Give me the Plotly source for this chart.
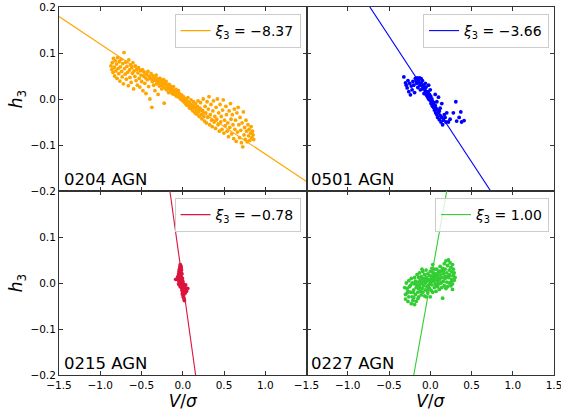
import plotly.graph_objects as go
from plotly.subplots import make_subplots

# ---- data -------------------------------------------------------------
labels = ["0204 AGN", "0501 AGN", "0215 AGN", "0227 AGN"]
xi3 = [-8.37, -3.66, -0.78, 1.00]
colors = ["#FFA500", "#0000FF", "#DC143C", "#32CD32"]

x_ticks_left = [-1.5, -1.0, -0.5, 0.0, 0.5, 1.0]
x_ticks_right = [-1.5, -1.0, -0.5, 0.0, 0.5, 1.0, 1.5]
y_ticks_top = [-0.2, -0.1, 0.0, 0.1, 0.2]
y_ticks_bottom = [-0.2, -0.1, 0.0, 0.1]

# (V/sigma, h3) pairs per galaxy
pts_0204 = [
    (-0.87, 0.072), (-0.86, 0.064), (-0.855, 0.079), (-0.845, 0.058), (-0.84, 0.088),
    (-0.83, 0.069), (-0.826, 0.05), (-0.818, 0.083), (-0.81, 0.061), (-0.803, 0.076),
    (-0.797, 0.045), (-0.79, 0.09), (-0.784, 0.066), (-0.776, 0.055), (-0.77, 0.081),
    (-0.762, 0.039), (-0.757, 0.07), (-0.748, 0.086), (-0.741, 0.06), (-0.734, 0.048),
    (-0.727, 0.077), (-0.72, 0.033), (-0.712, 0.101), (-0.706, 0.066), (-0.698, 0.054),
    (-0.69, 0.08), (-0.684, 0.043), (-0.676, 0.071), (-0.668, 0.058), (-0.66, 0.029),
    (-0.654, 0.085), (-0.646, 0.063), (-0.64, 0.047), (-0.633, 0.074), (-0.625, 0.036),
    (-0.618, 0.068), (-0.61, 0.056), (-0.604, 0.079), (-0.596, 0.022), (-0.589, 0.061),
    (-0.58, 0.049), (-0.574, 0.072), (-0.566, 0.04), (-0.559, 0.064), (-0.55, 0.03),
    (-0.543, 0.057), (-0.537, 0.068), (-0.528, 0.045), (-0.52, 0.026), (-0.513, 0.062),
    (-0.506, 0.052), (-0.498, 0.038), (-0.49, 0.064), (-0.483, 0.018), (-0.476, 0.05),
    (-0.468, 0.059), (-0.46, 0.034), (-0.452, 0.046), (-0.446, 0.012), (-0.438, 0.054),
    (-0.43, 0.042), (-0.421, 0.06), (-0.414, 0.027), (-0.405, 0.049), (-0.398, 0.0),
    (-0.39, 0.044), (-0.383, 0.055), (-0.374, -0.018), (-0.368, 0.038), (-0.36, 0.05),
    (-0.352, 0.03), (-0.345, 0.046), (-0.337, 0.018), (-0.33, 0.04), (-0.322, 0.052),
    (-0.315, 0.033), (-0.307, 0.044), (-0.299, 0.01), (-0.292, 0.037), (-0.284, 0.028),
    (-0.276, 0.045), (-0.27, 0.032), (-0.262, 0.04), (-0.255, 0.022), (-0.247, 0.036),
    (-0.24, 0.029), (-0.232, 0.042), (-0.225, -0.009), (-0.218, 0.024), (-0.21, 0.033),
    (-0.202, 0.038), (-0.195, 0.02), (-0.188, 0.03), (-0.18, 0.025), (-0.172, 0.014),
    (-0.165, 0.032), (-0.157, 0.022), (-0.15, 0.028), (-0.143, 0.016), (-0.135, 0.024),
    (-0.128, 0.012), (-0.12, 0.02), (-0.113, 0.027), (-0.105, 0.01), (-0.098, 0.018),
    (-0.09, 0.013), (-0.082, 0.021), (-0.075, 0.006), (-0.068, 0.015), (-0.06, 0.01),
    (-0.052, 0.018), (-0.045, 0.003), (-0.037, 0.011), (-0.03, 0.006), (-0.022, -0.001),
    (-0.015, 0.009), (-0.008, 0.002), (0.0, -0.004), (0.008, 0.005), (0.016, -0.006),
    (0.024, 0.001), (0.031, -0.01), (0.039, -0.002), (0.046, -0.013), (0.054, -0.006),
    (0.062, 0.003), (0.07, -0.015), (0.077, -0.008), (0.085, -0.02), (0.093, -0.011),
    (0.1, -0.002), (0.108, -0.022), (0.116, -0.014), (0.123, -0.026), (0.131, -0.006),
    (0.139, -0.018), (0.147, -0.03), (0.154, -0.01), (0.162, -0.024), (0.17, -0.033),
    (0.178, -0.016), (0.185, -0.004), (0.193, -0.028), (0.2, -0.038), (0.208, -0.02),
    (0.216, -0.008), (0.224, -0.034), (0.232, -0.043), (0.24, -0.025), (0.248, 0.0),
    (0.256, -0.038), (0.263, -0.048), (0.271, -0.016), (0.279, -0.03), (0.287, -0.052),
    (0.295, -0.006), (0.303, -0.04), (0.31, -0.022), (0.318, 0.005), (0.326, -0.056),
    (0.334, -0.034), (0.342, -0.012), (0.35, -0.046), (0.357, -0.06), (0.365, -0.026),
    (0.373, -0.004), (0.381, -0.05), (0.389, -0.038), (0.397, -0.064), (0.404, -0.018),
    (0.412, -0.044), (0.42, 0.0), (0.428, -0.056), (0.436, -0.03), (0.444, -0.07),
    (0.452, -0.012), (0.46, -0.05), (0.467, -0.038), (0.475, -0.066), (0.483, -0.024),
    (0.491, -0.002), (0.499, -0.074), (0.507, -0.046), (0.515, -0.058), (0.523, -0.016),
    (0.53, -0.034), (0.538, -0.07), (0.546, -0.052), (0.554, -0.082), (0.562, -0.026),
    (0.57, -0.062), (0.578, -0.01), (0.585, -0.044), (0.593, -0.076), (0.601, -0.034),
    (0.609, -0.056), (0.617, -0.086), (0.625, -0.022), (0.632, -0.066), (0.64, -0.046),
    (0.648, -0.092), (0.656, -0.03), (0.664, -0.072), (0.672, -0.018), (0.68, -0.056),
    (0.688, -0.084), (0.695, -0.04), (0.703, -0.068), (0.711, -0.095), (0.719, -0.052),
    (0.727, -0.104), (0.735, -0.028), (0.743, -0.078), (0.75, -0.062), (0.758, -0.088),
    (0.766, -0.046), (0.774, -0.07), (0.782, -0.093), (0.79, -0.056), (0.797, -0.08),
    (0.805, -0.066), (0.813, -0.09), (0.821, -0.074), (0.829, -0.06), (0.837, -0.084),
    (0.845, -0.07), (0.852, -0.078), (0.86, -0.088),
    (-0.26, 0.03), (-0.2, 0.022), (-0.14, 0.02), (-0.1, 0.014), (-0.05, 0.008),
    (0.0, 0.003), (0.05, -0.004), (0.1, -0.012), (0.15, -0.018), (0.2, -0.024),
    (0.25, -0.03), (-0.3, 0.038), (-0.35, 0.042), (-0.07, 0.012), (0.12, -0.016),
    (0.02, -0.002),
]

pts_0501 = [
    (-0.32, 0.048), (-0.30, 0.035), (-0.29, 0.030), (-0.28, 0.024), (-0.27, 0.040),
    (-0.26, 0.016), (-0.25, 0.034), (-0.24, 0.009), (-0.23, 0.028), (-0.22, 0.020),
    (-0.21, 0.038), (-0.20, 0.030), (-0.19, 0.014), (-0.18, 0.045), (-0.17, 0.040),
    (-0.165, 0.034), (-0.16, 0.046), (-0.15, 0.025), (-0.145, 0.040), (-0.14, 0.036),
    (-0.13, 0.046), (-0.125, 0.030), (-0.12, 0.020), (-0.11, 0.035), (-0.10, 0.028),
    (-0.095, 0.040), (-0.09, 0.022), (-0.08, 0.030), (-0.075, 0.012), (-0.07, 0.024),
    (-0.06, 0.018), (-0.05, 0.026), (-0.045, 0.008), (-0.04, 0.014), (-0.03, 0.004),
    (-0.025, 0.016), (-0.02, 0.000), (-0.01, 0.010), (0.0, -0.004), (0.005, 0.006),
    (0.01, -0.010), (0.02, 0.000), (0.025, -0.014), (0.03, -0.006), (0.04, -0.018),
    (0.045, -0.008), (0.05, -0.024), (0.06, -0.014), (0.065, -0.030), (0.07, -0.020),
    (0.08, -0.034), (0.085, -0.024), (0.09, -0.040), (0.10, -0.030), (0.11, -0.045),
    (0.12, -0.036), (0.13, -0.050), (0.14, -0.040), (0.15, -0.056), (0.16, -0.046),
    (0.10, 0.004), (0.12, -0.020), (0.14, -0.010), (0.18, -0.040), (0.20, -0.030),
    (0.22, -0.050), (0.24, -0.044), (0.28, -0.030), (0.31, -0.006), (0.32, -0.048),
    (0.35, -0.040), (0.37, -0.028), (0.38, -0.050), (0.41, -0.047), (0.06, 0.010),
    (-0.02, 0.030), (0.00, 0.020), (0.08, -0.006), (-0.11, 0.044), (-0.06, 0.034),
    (0.03, -0.016), (0.11, -0.026), (0.17, -0.034), (0.19, -0.050),
]

pts_0215 = [
    (-0.030, 0.040), (-0.035, 0.035), (-0.020, 0.036), (-0.040, 0.030), (-0.025, 0.030),
    (-0.015, 0.028), (-0.045, 0.025), (-0.030, 0.024), (-0.020, 0.022), (-0.050, 0.020),
    (-0.035, 0.018), (-0.010, 0.020), (-0.040, 0.014), (-0.025, 0.015), (-0.015, 0.012),
    (-0.070, 0.008), (-0.055, 0.010), (-0.030, 0.008), (-0.020, 0.006), (-0.005, 0.010),
    (-0.045, 0.004), (-0.035, 0.000), (-0.025, 0.002), (-0.010, 0.000), (0.000, 0.004),
    (-0.040, -0.004), (-0.020, -0.004), (-0.005, -0.006), (0.010, -0.002), (-0.030, -0.008),
    (-0.015, -0.010), (0.000, -0.012), (0.020, -0.008), (0.030, -0.010), (-0.010, -0.016),
    (0.010, -0.016), (0.040, -0.014), (0.000, -0.020), (0.020, -0.020), (-0.005, -0.024),
    (0.010, -0.026), (0.030, -0.022), (0.005, -0.030), (0.015, -0.034), (0.020, -0.038),
    (-0.060, 0.014), (-0.050, -0.002), (0.035, -0.004), (0.025, -0.016), (-0.020, 0.032),
    (-0.085, 0.008), (0.060, -0.012), (0.045, -0.018), (-0.028, 0.018), (0.012, -0.006),
]

pts_0227 = [
    (-0.31, -0.010), (-0.30, -0.025), (-0.29, 0.000), (-0.30, -0.035), (-0.27, -0.018),
    (-0.27, -0.040), (-0.26, 0.005), (-0.26, -0.030), (-0.28, -0.012), (-0.24, -0.020),
    (-0.23, -0.045), (-0.23, 0.010), (-0.22, -0.030), (-0.24, -0.005), (-0.22, 0.000),
    (-0.21, -0.038), (-0.20, -0.015), (-0.19, -0.047), (-0.19, 0.012), (-0.18, -0.025),
    (-0.20, -0.032), (-0.18, 0.004), (-0.17, -0.010), (-0.17, -0.040), (-0.16, 0.018),
    (-0.15, -0.020), (-0.15, 0.002), (-0.14, -0.030), (-0.14, 0.012), (-0.13, -0.008),
    (-0.13, 0.022), (-0.12, -0.018), (-0.12, 0.006), (-0.16, -0.004), (-0.11, -0.026),
    (-0.11, 0.014), (-0.10, 0.000), (-0.10, -0.012), (-0.09, 0.025), (-0.09, -0.020),
    (-0.08, 0.008), (-0.08, -0.006), (-0.07, 0.018), (-0.07, -0.028), (-0.10, 0.030),
    (-0.06, 0.000), (-0.06, -0.015), (-0.05, 0.012), (-0.05, 0.028), (-0.04, -0.008),
    (-0.04, 0.004), (-0.03, 0.020), (-0.03, -0.022), (-0.02, 0.008), (-0.02, -0.004),
    (-0.01, 0.016), (-0.01, -0.012), (-0.05, -0.030), (0.00, 0.000), (0.00, 0.025),
    (0.01, -0.016), (0.01, 0.008), (0.02, 0.032), (0.02, -0.004), (0.03, 0.014),
    (0.03, -0.020), (0.04, 0.004), (0.04, 0.022), (0.05, -0.010), (0.05, 0.030),
    (0.00, -0.030), (0.03, 0.040), (0.06, 0.012), (0.06, -0.002), (0.07, 0.020),
    (0.07, -0.018), (0.08, 0.006), (0.08, 0.030), (0.09, -0.008), (0.09, 0.014),
    (0.10, 0.024), (0.10, -0.002), (0.11, 0.008), (0.11, -0.014), (0.12, 0.018),
    (0.12, 0.036), (0.13, 0.000), (0.13, 0.026), (0.14, -0.010), (0.14, 0.012),
    (0.15, 0.032), (0.15, -0.033), (0.16, 0.004), (0.16, 0.020), (0.17, 0.042),
    (0.17, -0.006), (0.18, 0.014), (0.18, 0.030), (0.19, -0.012), (0.19, 0.048),
    (0.20, 0.002), (0.20, 0.022), (0.21, 0.038), (0.21, -0.008), (0.22, 0.012),
    (0.22, 0.050), (0.23, 0.028), (0.23, 0.000), (0.24, 0.044), (0.24, 0.016),
    (0.25, -0.006), (0.25, 0.034), (0.26, 0.008), (0.26, 0.024), (0.27, 0.040),
    (0.27, -0.002), (0.28, 0.016), (0.28, 0.030), (0.29, 0.006), (0.29, 0.022),
    (0.30, 0.012), (0.27, -0.014), (-0.25, -0.008), (-0.21, -0.020), (-0.14, -0.012),
    (-0.07, 0.004), (-0.02, -0.010), (0.04, 0.010), (0.09, 0.004), (0.14, 0.002),
    (-0.12, -0.002), (-0.04, -0.016), (0.02, 0.014), (0.07, -0.004), (0.12, 0.026),
    (0.18, 0.010), (0.23, 0.018), (-0.09, 0.010), (-0.01, 0.006), (0.05, 0.018),
    (-0.28, -0.022), (-0.19, -0.002), (-0.15, -0.034), (0.10, 0.010), (0.16, 0.026),
    (0.21, 0.014), (0.26, 0.004), (-0.06, 0.008), (0.01, 0.004), (0.08, 0.018),
]

panel_pts = [pts_0204, pts_0501, pts_0215, pts_0227]
fit_v = [-1.5, 1.5]

FONT = "DejaVu Sans"
SPINE = "#333333"

fig = make_subplots(rows=2, cols=2, shared_xaxes=True, shared_yaxes=True,
                    horizontal_spacing=0, vertical_spacing=0)

legend_pos = [(0.488, 0.981), (0.99, 0.981), (0.488, 0.481), (0.99, 0.481)]

for i in range(4):
    row, col = i // 2 + 1, i % 2 + 1
    lg = "legend" if i == 0 else f"legend{i + 1}"
    sign = "−" if xi3[i] < 0 else ""
    name = f"<i>ξ</i><sub>3</sub> = {sign}{abs(xi3[i]):.2f}"
    v_vals = [p[0] for p in panel_pts[i]]
    h_vals = [p[1] for p in panel_pts[i]]
    fig.add_trace(go.Scatter(
        x=v_vals, y=h_vals, mode="markers",
        marker=dict(color=colors[i], size=3.8, line=dict(width=0)),
        showlegend=False, hoverinfo="skip"), row=row, col=col)
    fig.add_trace(go.Scatter(
        x=fit_v, y=[v / xi3[i] for v in fit_v], mode="lines",
        line=dict(color=colors[i], width=1.1), name=name,
        legend=lg, showlegend=True), row=row, col=col)
    lx, ly = legend_pos[i]
    fig.update_layout({lg: dict(
        x=lx, y=ly, xanchor="right", yanchor="top",
        bgcolor="rgba(255,255,255,0.8)", bordercolor="#cccccc", borderwidth=1,
        font=dict(family=FONT, size=14, color="black"),
        itemwidth=30, tracegroupgap=0)})
    xref = "x domain" if i == 0 else f"x{i + 1} domain"
    yref = "y domain" if i == 0 else f"y{i + 1} domain"
    fig.add_annotation(text=labels[i], xref=xref, yref=yref, x=0.012, y=0.0,
                       xanchor="left", yanchor="bottom", showarrow=False,
                       font=dict(family=FONT, size=16.5, color="black"))

axis_common = dict(showline=True, linecolor=SPINE, linewidth=1,
                   mirror="allticks", ticks="inside", ticklen=4, tickwidth=1,
                   tickcolor=SPINE, showgrid=False, zeroline=False,
                   automargin=False, ticklabeloverflow="allow",
                   tickfont=dict(family=FONT, size=10.5, color="black"))

x_text_left = [f"{v:.1f}".replace("-", "−") for v in x_ticks_left]
x_text_right = [f"{v:.1f}".replace("-", "−") for v in x_ticks_right]
y_text_top = [f"{v:.1f}".replace("-", "−") for v in y_ticks_top]
y_text_bottom = [f"{v:.1f}".replace("-", "−") for v in y_ticks_bottom]

# the last x tick sits on the range edge; nudge it inward so it is kept
x_pos_right = x_ticks_right[:-1] + [x_ticks_right[-1] - 1e-6]

for ax in ["xaxis", "xaxis2", "xaxis3", "xaxis4"]:
    fig.update_layout({ax: dict(axis_common, range=[-1.5, 1.5],
                                tickvals=x_pos_right, ticktext=x_text_right)})
for ax in ["yaxis", "yaxis2", "yaxis3", "yaxis4"]:
    fig.update_layout({ax: dict(axis_common, range=[-0.2, 0.2],
                                tickvals=y_ticks_top, ticktext=y_text_top)})

fig.update_layout(xaxis3=dict(tickvals=x_ticks_left, ticktext=x_text_left),
                  yaxis3=dict(tickvals=y_ticks_bottom, ticktext=y_text_bottom))

title_font = dict(family=FONT, size=17, color="black")
for ax in ["xaxis3", "xaxis4"]:
    fig.update_layout({ax: dict(title=dict(text="<i>V</i>/<i>σ</i>", font=title_font, standoff=2))})
for ax in ["yaxis", "yaxis3"]:
    fig.update_layout({ax: dict(title=dict(text="<i>h</i><sub>3</sub>", font=title_font, standoff=3))})

fig.update_layout(width=561, height=414, margin=dict(l=59, r=7, t=7, b=39),
                  plot_bgcolor="white", paper_bgcolor="white",
                  font=dict(family=FONT))

fig.write_html("out.html")
